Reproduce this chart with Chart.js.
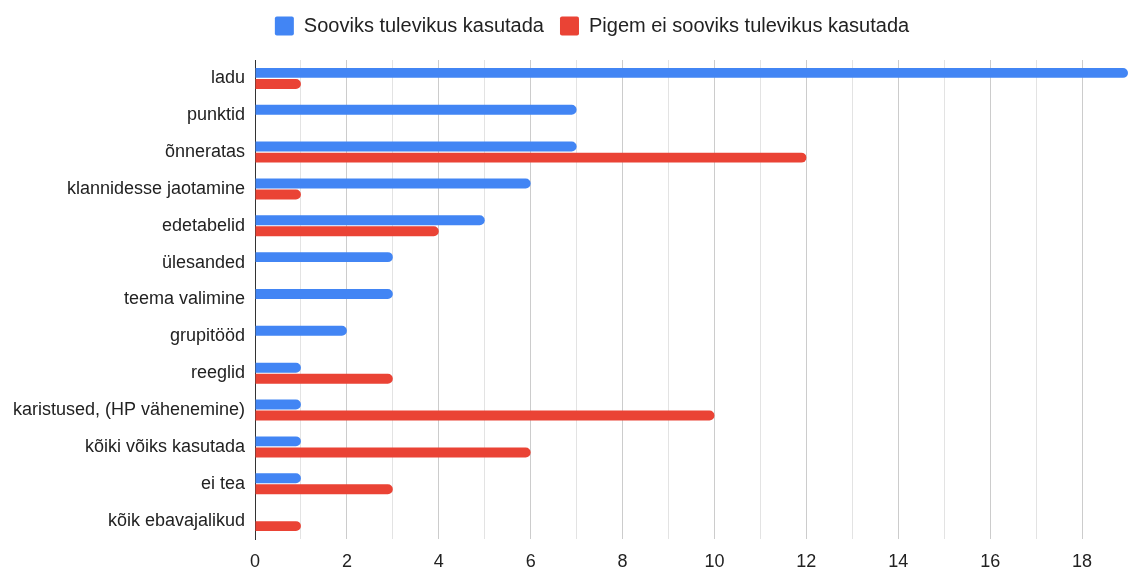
<!DOCTYPE html>
<html>
<head>
<meta charset="utf-8">
<script src="https://cdn.jsdelivr.net/npm/chart.js@4"></script>
<style>
html,body{margin:0;padding:0;background:#fff;}
#wrap{width:1128px;height:572px;position:relative;}
</style>
</head>
<body>
<div id="wrap"><canvas id="c" width="1128" height="572"></canvas></div>
<script>
const categories = ["ladu","punktid","õnneratas","klannidesse jaotamine","edetabelid","ülesanded","teema valimine","grupitööd","reeglid","karistused, (HP vähenemine)","kõiki võiks kasutada","ei tea","kõik ebavajalikud"];
const wantValues = [19,7,7,6,5,3,3,2,1,1,1,1,0];
const notWantValues = [1,0,12,1,4,0,0,0,3,10,6,3,1];
const seriesNames = ["Sooviks tulevikus kasutada","Pigem ei sooviks tulevikus kasutada"];
const xTickLabels = [0,2,4,6,8,10,12,14,16,18];

const FONT = "'Liberation Sans', Arial, sans-serif";
Chart.defaults.font.family = FONT;
Chart.defaults.color = "#222";

const legendTweak = {
  id: 'legendTweak',
  beforeLayout(chart) {
    const lg = chart.legend;
    if (lg && !lg._tweaked) {
      const origFit = lg.fit;
      lg.fit = function () { origFit.call(this); this.height += 14; };
      lg._tweaked = true;
    }
  },
  afterLayout(chart) {
    const lg = chart.legend;
    if (lg) { lg.left += 28; lg.right += 28; }
  }
};

new Chart(document.getElementById('c'), {
  type: 'bar',
  data: {
    labels: categories,
    datasets: [
      {label: seriesNames[0], data: wantValues, backgroundColor: '#4285F4', borderRadius: 5, borderSkipped: 'start'},
      {label: seriesNames[1], data: notWantValues, backgroundColor: '#EA4335', borderRadius: 5, borderSkipped: 'start'}
    ]
  },
  plugins: [legendTweak],
  options: {
    indexAxis: 'y',
    responsive: false,
    animation: false,
    devicePixelRatio: 1,
    categoryPercentage: 0.6,
    barPercentage: 0.9,
    layout: {padding: {left: 0, right: 0, top: 0, bottom: 0}},
    plugins: {
      legend: {
        position: 'top',
        labels: {
          boxWidth: 19, boxHeight: 19, padding: 16,
          useBorderRadius: true, borderRadius: 2,
          font: {size: 20, family: FONT},
          color: '#222'
        }
      },
      tooltip: {enabled: false}
    },
    scales: {
      x: {
        min: 0, max: 19,
        ticks: {
          stepSize: 1,
          autoSkip: false,
          maxRotation: 0,
          font: {size: 18, family: FONT},
          color: '#222',
          padding: 12,
          callback: (v) => xTickLabels.includes(v) ? String(v) : ''
        },
        grid: {
          color: (ctx) => (ctx.tick && ctx.tick.value % 2 === 0) ? '#cccccc' : '#e3e3e3',
          lineWidth: 1,
          drawTicks: false
        },
        border: {display: false},
        afterFit: (s) => { s.height = 33; s.paddingRight = 0; s.paddingLeft = 0; }
      },
      y: {
        ticks: {font: {size: 18, family: FONT}, color: '#222', padding: 10, autoSkip: false},
        grid: {display: false, drawTicks: false},
        border: {display: true, color: '#333', width: 1},
        afterFit: (s) => { s.width = 255; }
      }
    }
  }
});
</script>
</body>
</html>
